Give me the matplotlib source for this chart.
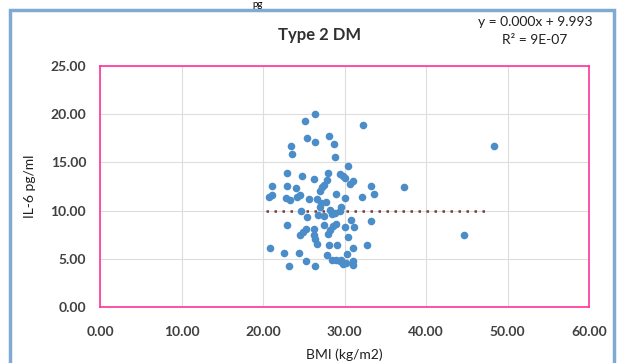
import matplotlib.pyplot as plt
from matplotlib.patches import Rectangle

# BMI (kg/m2) vs IL-6 (pg/ml), Type 2 DM group
bmi = [26.4, 25.2, 32.3, 25.4, 26.4, 28.1, 28.7, 23.4, 23.5, 28.8,
       30.4, 22.9, 24.8, 26.2, 28.0, 29.4, 29.8, 30.1, 27.8, 31.1,
       30.7, 27.5, 27.2, 21.1, 23.0, 24.0, 33.2, 27.0, 29.0, 33.6,
       32.1, 20.7, 21.1, 22.8, 23.3, 24.2, 24.5, 25.6, 26.6, 30.0,
       27.1, 27.7, 27.0, 29.6, 24.7, 28.2, 28.8, 29.4, 28.5, 25.4,
       26.7, 27.5, 29.0, 22.9, 27.5, 30.8, 33.2, 30.0, 31.2, 28.6,
       28.2, 25.3, 24.9, 24.5, 26.2, 26.3, 28.0, 30.4, 26.4, 26.6,
       28.1, 29.1, 31.1, 32.8, 20.8, 22.6, 24.4, 27.9, 28.5, 25.3,
       30.3, 29.4, 29.8, 30.2, 31.1, 31.1, 23.2, 26.4, 29.0, 29.6,
       37.3, 48.3, 44.7]
il6 = [20.0, 19.3, 18.9, 17.5, 17.1, 17.7, 16.9, 16.7, 15.9, 15.6,
       14.6, 13.9, 13.6, 13.3, 13.9, 13.8, 13.6, 13.4, 13.2, 13.1,
       12.8, 12.7, 12.4, 12.6, 12.6, 12.3, 12.6, 12.0, 11.7, 11.7,
       11.4, 11.4, 11.6, 11.3, 11.1, 11.4, 11.6, 11.2, 11.2, 11.3,
       10.8, 10.9, 10.4, 10.4, 10.0, 10.1, 9.7, 10.0, 9.6, 9.3,
       9.5, 9.4, 8.6, 8.5, 8.5, 9.0, 8.9, 8.3, 8.3, 8.4,
       8.0, 8.1, 7.8, 7.5, 8.1, 7.5, 7.6, 7.3, 7.1, 6.5,
       6.4, 6.4, 6.1, 6.4, 6.1, 5.6, 5.6, 5.4, 4.9, 4.8,
       5.5, 4.8, 4.5, 4.6, 4.8, 4.4, 4.3, 4.3, 4.9, 4.9,
       12.4, 16.7, 7.5]

slope = 0.000
intercept = 9.993
trend_x = [20.4, 47.7]

plt.rcParams['font.family'] = ['Lato', 'DejaVu Sans']

fig = plt.figure(figsize=(6.21, 3.63), dpi=100)
fig.patch.set_facecolor('white')

# outer chart frame (light blue), cut off at bottom
fig.add_artist(Rectangle((10 / 621, -0.05), 604 / 621, 1.05 - 10 / 363,
                         transform=fig.transFigure, fill=False,
                         edgecolor='#7FAAD4', linewidth=2.5))
# bit of page text showing above the chart
fig.text(0.415, 0.999, 'pg', ha='center', va='top', fontsize=7, color='black')

ax = fig.add_axes([100 / 621, 1 - 307 / 363, 489 / 621, 241 / 363])
ax.scatter(bmi, il6, s=30, color='#4A8DC9', zorder=3, linewidths=0)
ax.plot(trend_x, [slope * x + intercept for x in trend_x], linestyle=(0, (1, 2.2)),
        color='#7A3B3B', linewidth=1.8, zorder=2)

ax.set_xlim(0, 60)
ax.set_ylim(0, 25)
ax.set_xticks(range(0, 61, 10))
ax.set_yticks(range(0, 26, 5))
ax.set_xticklabels([f'{v:.2f}' for v in range(0, 61, 10)])
ax.set_yticklabels([f'{v:.2f}' for v in range(0, 26, 5)])
ax.tick_params(length=0, labelsize=10, labelcolor='#404040', pad=10)
for lab in ax.get_xticklabels() + ax.get_yticklabels():
    lab.set_fontweight('bold')
ax.tick_params(axis='x', pad=14)
ax.grid(True, color='#DDDDDD', linewidth=0.8)
ax.set_axisbelow(True)
for sp in ax.spines.values():
    sp.set_color('#FF3399')
    sp.set_linewidth(1.2)

ax.set_ylabel('IL-6 pg/ml', fontsize=10, color='#202020', labelpad=10)
ax.set_xlabel('BMI (kg/m2)', fontsize=10, color='#202020', labelpad=7)

fig.text(320 / 621, 1 - 35 / 363, 'Type 2 DM', ha='center', va='center',
         fontsize=12, fontweight='bold', color='#303030')
fig.text(535 / 621, 1 - 22 / 363, 'y = 0.000x + 9.993', ha='center', va='center',
         fontsize=10, color='#202020')
fig.text(535 / 621, 1 - 40 / 363, 'R² = 9E-07', ha='center', va='center',
         fontsize=10, color='#202020')

fig.savefig('out.png', dpi=100)
